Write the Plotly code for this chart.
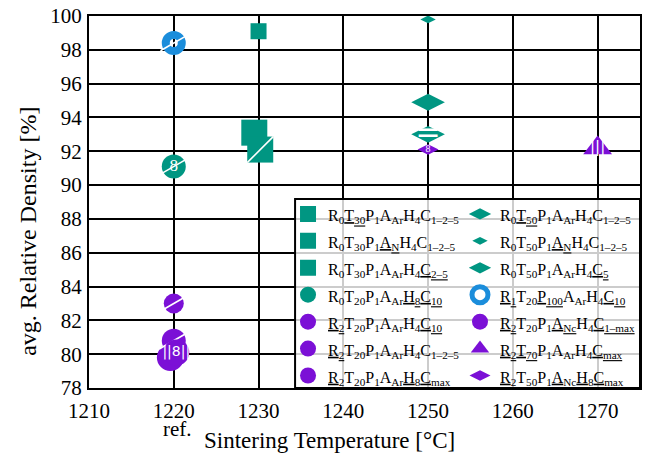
import plotly.graph_objects as go

# ---------------- data ----------------
series_labels = [
    "R<sub>0</sub><u>T<sub>30</sub></u>P<sub>1</sub>A<sub>Ar</sub>H<sub>4</sub>C<sub>1–2–5</sub>",
    "R<sub>0</sub><u>T<sub>50</sub></u>P<sub>1</sub>A<sub>Ar</sub>H<sub>4</sub>C<sub>1–2–5</sub>",
    "R<sub>0</sub>T<sub>30</sub>P<sub>1</sub><u>A<sub>N</sub></u>H<sub>4</sub>C<sub>1–2–5</sub>",
    "R<sub>0</sub>T<sub>50</sub>P<sub>1</sub><u>A<sub>N</sub></u>H<sub>4</sub>C<sub>1–2–5</sub>",
    "R<sub>0</sub>T<sub>30</sub>P<sub>1</sub>A<sub>Ar</sub>H<sub>4</sub><u>C<sub>2–5</sub></u>",
    "R<sub>0</sub>T<sub>50</sub>P<sub>1</sub>A<sub>Ar</sub>H<sub>4</sub><u>C<sub>5</sub></u>",
    "R<sub>0</sub>T<sub>20</sub>P<sub>1</sub>A<sub>Ar</sub><u>H<sub>8</sub></u><u>C<sub>10</sub></u>",
    "<u>R<sub>1</sub></u>T<sub>20</sub><u>P<sub>100</sub></u>A<sub>Ar</sub>H<sub>4</sub><u>C<sub>10</sub></u>",
    "<u>R<sub>2</sub></u>T<sub>20</sub>P<sub>1</sub>A<sub>Ar</sub>H<sub>4</sub><u>C<sub>10</sub></u>",
    "<u>R<sub>2</sub></u>T<sub>20</sub>P<sub>1</sub><u>A<sub>Nc</sub></u>H<sub>4</sub><u>C<sub>1–max</sub></u>",
    "<u>R<sub>2</sub></u>T<sub>20</sub>P<sub>1</sub>A<sub>Ar</sub>H<sub>4</sub>C<sub>1–2–5</sub>",
    "<u>R<sub>2</sub></u><u>T<sub>70</sub></u>P<sub>1</sub>A<sub>Ar</sub>H<sub>4</sub><u>C<sub>max</sub></u>",
    "<u>R<sub>2</sub></u>T<sub>20</sub>P<sub>1</sub>A<sub>Ar</sub><u>H<sub>8</sub>C<sub>max</sub></u>",
    "<u>R<sub>2</sub></u>T<sub>50</sub>P<sub>1</sub><u>A<sub>Nc</sub></u><u>H<sub>8</sub>C<sub>max</sub></u>",
]
series_temp = [
    [1229.5], [1250], [1230], [1250], [1230.2], [1250], [1220],
    [1220], [1220], [1220], [1219.6], [1270], [1220.3], [1250],
]
series_density = [
    [93.1], [94.9], [99.1], [99.8], [92.1], [93.0], [91.1],
    [98.4], [80.8], [83.0], [79.8], [92.2], [80.1], [92.1],
]
x_ticks = [1210, 1220, 1230, 1240, 1250, 1260, 1270]
y_ticks = [78, 80, 82, 84, 86, 88, 90, 92, 94, 96, 98, 100]

# ---------------- styles ----------------
TEAL = "#009682"
PURPLE = "#7b10d6"
BLUE = "#1b8ddb"
SERIF = "Liberation Serif"
SANS = "DejaVu Sans"

# (color, symbol, size, line_width, overlays)
styles = [
    (TEAL, "square", 26, 0, []),
    (TEAL, "diamond-wide", 24, 0, []),
    (TEAL, "square", 16, 0, []),
    (TEAL, "diamond-wide", 11, 0, []),
    (TEAL, "square", 26, 0, [("line-ne", 26, 0)]),
    (TEAL, "diamond-wide", 24, 0, [("text", "=", 30, SANS)]),
    (TEAL, "circle", 24, 0, [("line-ew", 24, -30), ("text", "8", 17, SERIF)]),
    (BLUE, "circle-open", 16, 8, [("line-ew", 22, -30)]),
    (PURPLE, "circle", 24, 0, [("line-ew", 24, -30)]),
    (PURPLE, "circle", 20, 0, [("line-ew", 20, -30)]),
    (PURPLE, "circle", 27, 0, []),
    (PURPLE, "triangle-up", 25, 0, [("text", "|||", 15, SANS)]),
    (PURPLE, "circle", 26, 0, [("text", "||8||", 14, SANS)]),
    (PURPLE, "diamond-wide", 15, 0, [("text", "8", 10, SERIF)]),
]
# drawing order (back to front)
draw_order = [7, 6, 9, 10, 8, 12, 0, 4, 2, 1, 3, 5, 13, 11]

fig = go.Figure()
for i in draw_order:
    color, sym, size, lw, overlays = styles[i]
    if sym == "circle-open":
        marker = dict(symbol=sym, size=size, color=color, line=dict(color=color, width=lw))
    else:
        marker = dict(symbol=sym, size=size, color=color, line=dict(width=0))
    fig.add_trace(go.Scatter(
        x=series_temp[i], y=series_density[i], mode="markers",
        name='<span style="font-size:16px">' + series_labels[i] + "</span>",
        marker=marker, legendrank=i // 2 + 1,
        legend="legend" if i % 2 == 0 else "legend2",
        cliponaxis=False,
    ))
    for ov in overlays:
        kind = ov[0]
        if kind.startswith("line"):
            fig.add_trace(go.Scatter(
                x=series_temp[i], y=series_density[i], mode="markers", showlegend=False,
                hoverinfo="skip", cliponaxis=False,
                marker=dict(symbol=kind, size=ov[1], angle=ov[2],
                            line=dict(color="white", width=1.6)),
            ))
        else:
            fig.add_trace(go.Scatter(
                x=series_temp[i], y=series_density[i], mode="text", showlegend=False,
                hoverinfo="skip", cliponaxis=False, text=[ov[1]],
                textposition="middle center",
                textfont=dict(color="white", size=ov[2], family=ov[3]),
            ))

axis_common = dict(
    showgrid=True, gridcolor="black", gridwidth=2,
    showline=True, linecolor="black", linewidth=2, mirror=True,
    zeroline=False, ticks="outside", tickcolor="rgba(0,0,0,0)",
    tickfont=dict(family=SERIF, size=21, color="black"),
)
fig.update_xaxes(range=[1210, 1275], tickvals=x_ticks, ticklen=3, **axis_common)
fig.update_yaxes(range=[78, 100], tickvals=y_ticks, ticklen=1, **axis_common)

fig.add_annotation(text="avg. Relative Density [%]", textangle=-90,
                   x=-0.111, xref="paper", xanchor="center",
                   y=0.422, yref="paper", yanchor="middle",
                   showarrow=False, font=dict(family=SERIF, size=24, color="black"))
fig.add_annotation(text="ref.", x=1220, xref="x", xshift=4, y=-0.11, yref="paper",
                   yanchor="middle", showarrow=False,
                   font=dict(family=SERIF, size=21, color="black"))
fig.add_annotation(text="Sintering Temperature [°C]", x=0.437, xref="paper",
                   y=-0.14, yref="paper", yanchor="middle", showarrow=False,
                   font=dict(family=SERIF, size=23, color="black"))

# legend frame (drawn under both legend columns)
fig.add_shape(type="rect", xref="paper", yref="paper", layer="above",
              x0=0.374, x1=1.0, y0=0.0, y1=0.508,
              line=dict(color="black", width=2), fillcolor="rgba(255,255,255,0.8)")

legend_common = dict(
    orientation="v", yanchor="top", y=0.5175, xanchor="left",
    itemsizing="trace", bgcolor="rgba(0,0,0,0)", borderwidth=0,
    font=dict(family=SERIF, size=18.4, color="black"), traceorder="normal",
    tracegroupgap=0,
)
fig.update_layout(
    width=645, height=460,
    margin=dict(l=89, r=5, t=16, b=72, autoexpand=False),
    plot_bgcolor="white", paper_bgcolor="white",
    showlegend=True,
    legend=dict(x=0.3612, **legend_common),
    legend2=dict(x=0.6733, **legend_common),
)

fig.write_html("out.html")
